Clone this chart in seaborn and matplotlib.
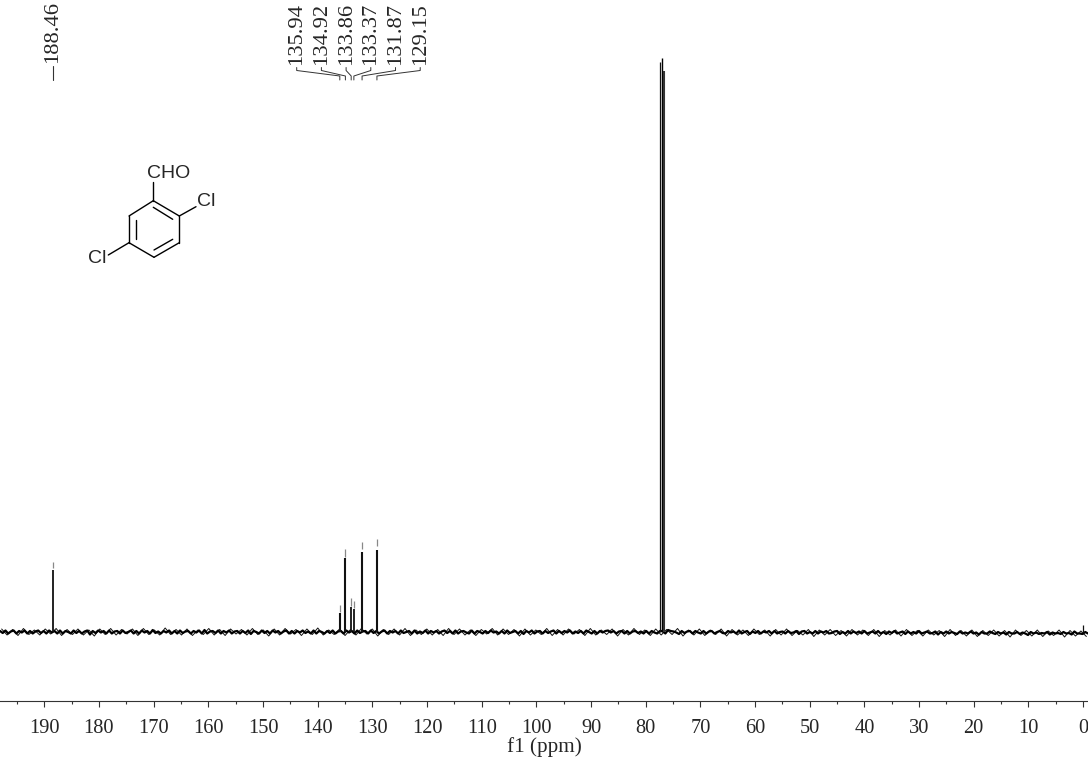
import numpy as np
import seaborn as sns
import matplotlib.pyplot as plt

# peaks, ppm and height above the baseline (one unit is one pixel of the scan)
peak_ppm = [188.46, 135.94, 134.92, 133.86, 133.37, 131.87, 129.15, 77.36, 76.98, 76.62, 0.0]
peak_height = [62, 19, 74, 25, 23, 80, 82, 570, 574, 561, 7]
peak_width = [1.3, 1.5, 1.5, 1.3, 1.3, 1.5, 1.5, 0.9, 1.0, 1.5, 0.9]
peak_color = ["#111111"] * 7 + ["#111111", "#000000", "#333333", "#111111"]

# little detached marks over the smaller peaks
tip_ppm = [188.46, 135.94, 134.92, 133.86, 133.37, 131.87, 129.15]
tip_low = [64, 20, 75, 26, 24, 83, 86]
tip_high = [70, 27, 83, 34, 31, 90, 93]

label_ppm = [135.94, 134.92, 133.86, 133.37, 131.87, 129.15]
label_text = ["135.94", "134.92", "133.86", "133.37", "131.87", "129.15"]

tick_ppm = [190, 180, 170, 160, 150, 140, 130, 120, 110, 100, 90, 80, 70, 60, 50, 40, 30, 20, 10, 0]

# baseline from left to right
baseline = [
    1.0, -1.0, 1.5, -1.5, 0.5, 1.5, -1.5, 1.0, -0.5, 1.5, -1.5, 1.0, -1.5, 0.5, 1.5, -1.0, 1.0, -1.5, 1.5, -0.5,
    1.0, -1.5, 1.5, -1.5, 1.0, 0.0, -1.5, 1.5, -1.0, 1.0, -1.5, 0.5, 1.5, -2.5, 1.0, -1.0, 1.5, -0.5, 1.0, -1.5,
    1.5, -1.5, 0.5, 1.0, -1.5, 1.5, -1.0, 0.0, 1.5, -1.5, 1.0, -1.5, 1.5, -0.5, 1.0, -1.5, 2.0, -1.0, 0.5, -1.5,
    1.0, -0.5, 1.5, -1.5, 1.0, -1.5, 1.5, -1.0, 0.5, 1.0, -1.5, 1.0, -0.5, 1.5, -1.5, 2.0, -1.5, 0.5, 1.0, -1.0,
    1.5, -1.5, 1.0, -0.5, 1.5, -1.5, 0.5, 1.0, -1.5, 1.0, -1.0, 1.5, -2.0, 1.0, 0.0, -1.5, 1.5, -1.0, 1.0, -1.5,
    1.5, -0.5, 1.0, -1.5, 0.5, 1.5, -1.5, 1.0, -1.5, 1.0, -0.5, 1.5, -1.0, 0.5, -1.5, 1.5, -1.5, 1.0, 0.0, -1.5,
    1.0, -1.0, 1.5, -1.5, 0.5, 1.0, -1.5, 1.5, -0.5, 1.0, -1.5, 1.5, -1.0, 0.5, 1.0, -1.5, 1.5, -1.0, 1.0, -1.5,
    0.5, 1.5, -1.5, 1.0, -0.5, 1.0, -1.5, 1.5, -1.0, 0.0, 1.0, -1.5, 1.5, -1.5, 0.5, -1.0, 1.5, -1.5, 1.0, -0.5,
    1.0, -1.5, 0.5, 1.5, -1.0, 1.0, -1.5, 1.5, -1.5, 0.5, 1.0, -0.5, -1.5, 1.5, -1.5, 1.0, 0.0, -1.5, 1.0, -1.0,
    1.5, -0.5, 0.5, -1.5, 1.0, -1.5, 1.5, -1.0, 0.0, 1.0, -1.5, 1.0, -2.0, 1.0, -0.5, 1.5, -1.5, 0.5, 1.0, -1.5,
    1.0, -1.0, 0.5, 1.5, -1.5, 1.0, -1.0, 1.0, -0.5, 1.5, -1.5, 0.5, -1.0, 1.0, -1.5, 1.5, 0.0, -1.5, 1.0, -1.5,
    1.0, -0.5, 1.0, 1.5, -0.5, 1.0, -1.5, 0.5, 1.0, -1.5, 1.0, -1.5, 0.5, 1.0, -1.0, 0.5, -1.5, 1.0, -1.5, 1.0,
    -0.5, -1.5, 1.0, 1.0, -1.5, 2.0, 1.0, 0.5, -0.5, -2.0, 1.0, -1.0, 0.5, 1.0, -1.5, 1.0, -0.5, -1.5, 1.0, -1.5,
    0.5, 1.0, -1.5, 0.0, 1.0, -1.0, -1.5, 1.0, -0.5, 0.5, -1.5, 1.5, -1.5, 0.0, 1.0, -2.0, 0.5, -1.0, 1.0, -1.5,
    0.5, -0.5, 1.0, -1.5, 1.0, -1.5, 0.0, 0.5, -1.5, 1.0, -1.0, -0.5, 1.0, -2.0, 0.5, 1.0, -1.5, 0.0, -1.5, 1.0,
    -1.5, 0.5, -0.5, 1.0, -1.5, -1.0, 0.5, 1.0, -2.0, 0.0, -1.5, 1.0, -1.5, 0.5, -1.0, 0.5, -1.5, 1.0, -1.5, -0.5,
    0.5, -1.5, 1.0, -1.5, 0.0, -2.0, 0.5, -1.0, 1.0, -1.5, -0.5, 0.5, -2.0, 0.5, -1.5, 0.0, -1.5, 1.0, -1.5, -0.5,
    0.5, -1.5, -1.0, 0.5, -2.5, 0.0, -1.5, 0.5, -1.5, 0.0, -1.0, -2.0, 0.5, -1.5, -0.5, -1.5, 0.5, -1.5, -0.5, -2.5,
    0.0, -1.5, -1.5, 0.5, -1.0, -2.0, 0.0, -1.5, -0.5, -2.5, 0.0, -1.5, -1.5, 0.0, -2.0, -0.5, -1.5, -3.0, 0.0, -1.5,
    -0.5, -2.0, -1.0, -1.5, 0.0, -2.5, -0.5, -1.5, -1.0, -2.0, 0.0, -1.5, -1.0, -2.5, 0.5, -1.5, -1.5, -2.0, 0.0, -1.5,
]
baseline_ppm = np.linspace(198.1, -0.9, len(baseline))

# thin spikes that stick out of the noise band, left to right
spikes = [
    3.0, -3.0, 2.5, -3.5, 3.5, -2.5, 2.0, -3.0, 3.0, -2.0, 3.5, -3.5, 2.5, -2.5, 3.0, -3.0, 2.0, -4.0, 3.0, -2.5,
    3.5, -3.0, 2.5, -2.0, 3.0, -3.5, 3.5, -2.5, 2.0, -3.0, 4.0, -2.5, 2.5, -3.0, 3.0, -3.5, 2.0, -2.5, 3.5, -3.0,
    2.5, -3.5, 3.0, -2.0, 2.5, -3.0, 3.5, -2.5, 2.0, -4.0, 3.0, -3.0, 3.5, -2.0, 2.5, -3.5, 3.0, -2.5, 4.0, -3.0,
    2.0, -2.5, 3.0, -3.5, 2.5, -3.0, 3.5, -2.0, 3.0, -4.0, 2.5, -2.5, 3.0, -3.0, 3.5, -3.5, 2.0, -2.5, 3.0, -3.0,
    2.5, -3.5, 3.5, -2.5, 3.0, -3.0, 2.0, -3.5, 2.5, -2.0, 3.5, -3.0, 3.0, -2.5, 2.5, -4.0, 3.0, -3.0, 2.0, -2.5,
    3.5, -3.5, 2.5, -3.0, 3.0, -2.0, 2.5, -3.5, 3.5, -3.0, 2.0, -2.5, 3.0, -4.0, 2.5, -3.0, 3.5, -2.5, 2.0, -3.5,
    3.0, -3.0, 2.5, -2.5, 3.5, -4.0, 2.0, -3.0, 3.0, -3.5, 2.0, -2.5, 3.0, -4.0, 2.5, -3.0, 2.0, -3.5, 3.0, -2.5,
    2.0, -4.0, 2.5, -3.0, 3.0, -3.5, 1.5, -3.0, 2.5, -4.5, 2.0, -3.0, 2.5, -3.5, 1.5, -4.0, 2.5, -3.0, 2.0, -3.5,
    2.5, -4.5, 1.5, -3.0, 2.0, -4.0, 2.5, -3.5, 1.5, -4.0, 2.0, -3.0, 1.5, -4.5, 2.5, -3.5, 1.5, -4.0, 2.0, -4.5,
    1.5, -3.5, 2.0, -4.0, 1.5, -5.0, 2.0, -3.5, 1.5, -4.0, 2.0, -4.5, 1.0, -3.5, 2.0, -5.0, 1.5, -4.0, 1.0, -4.5,
]
spikes_ppm = np.linspace(197.8, -0.6, len(spikes))

# structure drawing, in pixels of the scan
bonds = [
    [(153.3, 200.7), (179.3, 216)], [(179.3, 216), (179.3, 242.7)], [(179.3, 242.7), (154, 257.3)],
    [(154, 257.3), (129, 242.7)], [(129, 242.7), (129, 216)], [(129, 216), (153.3, 200.7)],
    [(153.3, 200.7), (153.3, 181.7)], [(179.3, 216), (196, 206.7)], [(129, 242.7), (108.3, 255)],
    [(135.7, 220), (135.7, 239.3)], [(153.3, 207.3), (172.7, 219.3)], [(154, 250), (172.7, 239.3)],
]
atoms = [("CHO", 168.3, 173.3), ("Cl", 206, 201.7), ("Cl", 97.3, 258.3)]

sns.set_style("white")
plt.rcParams["font.family"] = ["Liberation Serif", "DejaVu Serif"]
plt.rcParams["path.simplify"] = False

fig = plt.figure(figsize=(10.88, 7.6), dpi=100)
ax = fig.add_axes([0, 59 / 760, 1, 701 / 760])

sns.lineplot(x=spikes_ppm, y=spikes, color="#111111", lw=0.7, sort=False, estimator=None, ax=ax)
sns.lineplot(x=baseline_ppm, y=baseline, color="black", lw=1.6, sort=False, estimator=None, ax=ax)
ax.vlines(peak_ppm, 0, peak_height, color=peak_color, lw=peak_width)
ax.vlines(tip_ppm, tip_low, tip_high, color="#888888", lw=0.9)

ax.set_xlim(198.1, -0.9)
ax.set_ylim(-69, 632)
ax.set_yticks([])
ax.set_xticks(tick_ppm)
ax.set_xticks(np.arange(195, -1, -10), minor=True)
ax.set_xticklabels([str(t) for t in tick_ppm], fontsize=14.7)
ax.tick_params(axis="x", which="major", bottom=True, length=4.3, width=0.8, color="#333333", pad=9)
ax.tick_params(axis="x", which="minor", bottom=True, length=2.2, width=0.8, color="#333333")
sns.despine(ax=ax, left=True, right=True, top=True)
ax.spines["bottom"].set_color("#333333")
ax.spines["bottom"].set_linewidth(0.8)
ax.set_xlabel("")
fig.text(544.5 / 1088, 1 - 747.5 / 760, "f1 (ppm)", fontsize=15.2, ha="center", va="center")

# overlay in scan pixels for the peak labels and the structure
over = fig.add_axes([0, 0, 1, 1], facecolor="none")
over.set_xlim(0, 1088)
over.set_ylim(760, 0)
over.axis("off")


def ppm_px(p):
    return 1083 - 5.467 * p


for i, (p, t) in enumerate(zip(label_ppm, label_text)):
    lx = 296.7 + i * 24.7
    over.text(lx, 65, t, rotation=90, fontsize=16.2, ha="center", va="bottom")
    px = ppm_px(p)
    over.plot([lx, lx, px, px], [67.5, 70.5, 76, 80], color="#333333", lw=0.7)
over.text(ppm_px(188.46), 63, "188.46", rotation=90, fontsize=16.2, ha="center", va="bottom")
over.plot([ppm_px(188.46)] * 2, [66, 79.5], color="#333333", lw=0.8)

for b in bonds:
    over.plot([b[0][0], b[1][0]], [b[0][1], b[1][1]], color="black", lw=1.0)
for name, x, y in atoms:
    over.text(x, y, name, family="Liberation Sans", fontsize=14, ha="center", va="center")

fig.savefig("out.png", dpi=100)
